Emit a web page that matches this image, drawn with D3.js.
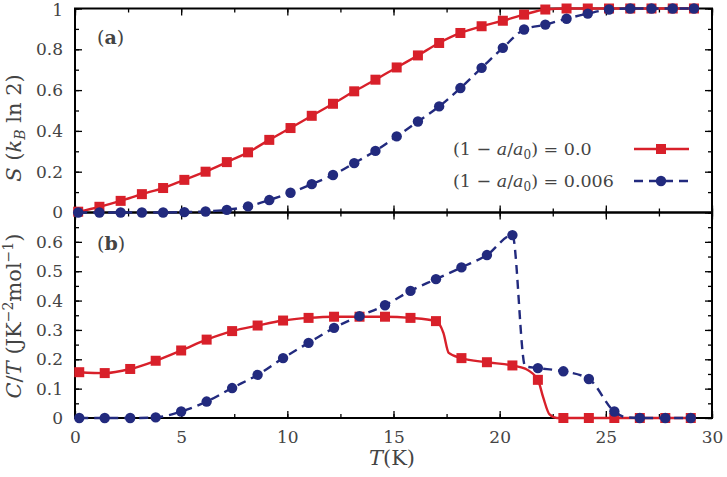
<!DOCTYPE html>
<html>
<head>
<meta charset="utf-8">
<script src="https://cdn.jsdelivr.net/npm/d3@7"></script>
<style>
  body { margin: 0; background: #fff; }
  svg { display: block; }
</style>
</head>
<body>
<script>
// entropy panel (a): markers every ~1 K
const tS = [0.15, 1.15, 2.15, 3.15, 4.15, 5.15, 6.15, 7.15, 8.15, 9.15,
  10.15, 11.15, 12.15, 13.15, 14.15, 15.15, 16.15, 17.15, 18.15, 19.15,
  20.15, 21.15, 22.15, 23.15, 24.15, 25.15, 26.15, 27.15, 28.15, 29.15];
const sRed = [0.004, 0.028, 0.057, 0.09, 0.12, 0.16, 0.2, 0.247, 0.295, 0.356,
  0.414, 0.474, 0.533, 0.594, 0.651, 0.711, 0.77, 0.831, 0.88, 0.913,
  0.94, 0.97, 0.995, 1, 1, 1, 1, 1, 1, 1];
const sBlue = [0, 0, 0, 0, 0, 0.002, 0.005, 0.013, 0.03, 0.061,
  0.097, 0.139, 0.184, 0.242, 0.302, 0.373, 0.446, 0.52, 0.61, 0.709,
  0.807, 0.897, 0.921, 0.95, 0.975, 0.995, 1, 1, 1, 1];

// specific heat panel (b): markers every ~1.2 K
const tC = [0.2, 1.4, 2.6, 3.8, 5.0, 6.2, 7.4, 8.6, 9.8, 11.0, 12.2, 13.4,
  14.6, 15.8, 17.0, 18.2, 19.4, 20.6, 21.8, 23.0, 24.2, 25.4, 26.6, 27.8, 29.0];
const cRed = [0.156, 0.153, 0.167, 0.195, 0.23, 0.267, 0.296, 0.315, 0.332, 0.341,
  0.345, 0.345, 0.345, 0.341, 0.33, 0.204, 0.19, 0.179, 0.13, 0, 0, 0, 0, 0, 0];
const cBlue = [0, 0, 0, 0.002, 0.022, 0.056, 0.102, 0.147, 0.204, 0.256,
  0.307, 0.347, 0.384, 0.433, 0.473, 0.513, 0.555, 0.623, 0.17, 0.159,
  0.133, 0.022, 0, 0, 0];
// extra points of the curves between markers (sharp drops)
const cRedKnots = [[17.35, 0.29], [17.6, 0.222], [21.2, 0.168], [22.05, 0.07], [22.35, 0.012], [22.7, 0]];
const cBlueKnots = [[21.2, 0.176], [25.9, 0.003]];

const xTicks = [0, 5, 10, 15, 20, 25, 30];
const sTicks = [0, 0.2, 0.4, 0.6, 0.8, 1];
const cTicks = [0, 0.1, 0.2, 0.3, 0.4, 0.5, 0.6];
const legendLabels = ["0.0", "0.006"];

const W = 727, H = 477;
const red = "#d8202a", blue = "#222a7e", ink = "#444";
const font = "'DejaVu Serif', 'Liberation Serif', serif";

const svg = d3.select("body").append("svg")
  .attr("width", W).attr("height", H)
  .style("font-family", font);

const x = d3.scaleLinear().domain([0, 30]).range([75, 712]);
const yS = d3.scaleLinear().domain([0, 1]).range([212.5, 8.5]);
const yC = d3.scaleLinear().domain([0, 0.7]).range([418, 212.5]);

function fmt(d) { return (d === 0 || d === 1) ? String(d) : d.toFixed(1); }

function frameAxes(y, yMajor, yMinorStep, bottomLabels) {
  const [y0, y1] = y.range();
  const yMax = y.domain()[1];
  const yMinor = d3.range(0, yMax + 1e-9, yMinorStep);
  const xMinor = d3.range(0, 30.01, 2.5);
  const g = svg.append("g");

  const put = (axis, transform) => {
    const a = g.append("g").attr("transform", transform).call(axis);
    a.select(".domain").remove();
    a.selectAll("line").attr("stroke", "#000").attr("stroke-width", 1.3);
    a.selectAll("text").attr("fill", ink).style("font-size", "17px").style("font-family", font);
    return a;
  };
  // left
  put(d3.axisLeft(y).tickValues(yMinor).tickSize(-4).tickFormat(""), `translate(${x(0)},0)`);
  put(d3.axisLeft(y).tickValues(yMajor).tickSize(-7).tickPadding(12).tickFormat(fmt), `translate(${x(0)},0)`)
    .selectAll("text").filter(d => d === 1).attr("dy", "0.42em");
  // right
  put(d3.axisRight(y).tickValues(yMinor).tickSize(-4).tickFormat(""), `translate(${x(30)},0)`);
  put(d3.axisRight(y).tickValues(yMajor).tickSize(-7).tickFormat(""), `translate(${x(30)},0)`);
  // top
  put(d3.axisTop(x).tickValues(xMinor).tickSize(-4).tickFormat(""), `translate(0,${y1})`);
  put(d3.axisTop(x).tickValues(xTicks).tickSize(-7).tickFormat(""), `translate(0,${y1})`);
  // bottom
  put(d3.axisBottom(x).tickValues(xMinor).tickSize(-4).tickFormat(""), `translate(0,${y0})`);
  put(d3.axisBottom(x).tickValues(xTicks).tickSize(-7).tickPadding(13)
    .tickFormat(bottomLabels ? d3.format("d") : ""), `translate(0,${y0})`);

  g.append("rect")
    .attr("x", x(0)).attr("y", y1)
    .attr("width", x(30) - x(0)).attr("height", y0 - y1)
    .attr("fill", "none").attr("stroke", "#000").attr("stroke-width", 2);
}

frameAxes(yS, sTicks, 0.1, false);
frameAxes(yC, cTicks, 0.05, true);

function series(y, pts, color, dashed, marker) {
  const line = d3.line().x(d => x(d[0])).y(d => y(d[1])).curve(d3.curveMonotoneX);
  svg.append("path")
    .datum(pts.line)
    .attr("d", line)
    .attr("fill", "none")
    .attr("stroke", color)
    .attr("stroke-width", 2.4)
    .attr("stroke-dasharray", dashed ? "9,6" : null);
  const m = svg.append("g").attr("fill", color);
  if (marker === "square") {
    m.selectAll("rect").data(pts.marks).join("rect")
      .attr("x", d => x(d[0]) - 5).attr("y", d => y(d[1]) - 5)
      .attr("width", 10).attr("height", 10);
  } else {
    m.selectAll("circle").data(pts.marks).join("circle")
      .attr("cx", d => x(d[0])).attr("cy", d => y(d[1])).attr("r", 5.2);
  }
}

function build(t, v, knots) {
  const marks = t.map((d, i) => [d, v[i]]);
  const line = marks.concat(knots || []).sort((a, b) => a[0] - b[0]);
  return { marks, line };
}

series(yS, build(tS, sRed), red, false, "square");
series(yS, build(tS, sBlue), blue, true, "circle");
series(yC, build(tC, cRed, cRedKnots), red, false, "square");
series(yC, build(tC, cBlue, cBlueKnots), blue, true, "circle");

// panel labels
function panelLabel(letter, px, py) {
  const t = svg.append("text").attr("x", px).attr("y", py)
    .attr("fill", ink).style("font-size", "19px");
  t.append("tspan").text("(");
  t.append("tspan").attr("font-weight", "bold").text(letter);
  t.append("tspan").text(")");
}
panelLabel("a", 97, 44);
panelLabel("b", 97, 250);

// legend
legendLabels.forEach((lab, i) => {
  const cy = i === 0 ? 149 : 181;
  const t = svg.append("text").attr("x", 453).attr("y", cy + 6)
    .attr("fill", ink).style("font-size", "17.5px");
  t.append("tspan").text("(1 \u2212 ");
  t.append("tspan").attr("font-style", "italic").text("a");
  t.append("tspan").text("/");
  t.append("tspan").attr("font-style", "italic").text("a");
  t.append("tspan").attr("dy", 4).style("font-size", "12px").text("0");
  t.append("tspan").attr("dy", -4).text(") = " + lab);
  const color = i === 0 ? red : blue;
  svg.append("line").attr("x1", 634).attr("x2", 689).attr("y1", cy).attr("y2", cy)
    .attr("stroke", color).attr("stroke-width", 2.4)
    .attr("stroke-dasharray", i === 0 ? null : "9,6");
  if (i === 0) {
    svg.append("rect").attr("x", 656).attr("y", cy - 5).attr("width", 10).attr("height", 10).attr("fill", color);
  } else {
    svg.append("circle").attr("cx", 661).attr("cy", cy).attr("r", 5.2).attr("fill", color);
  }
});

// axis titles
const xl = svg.append("text").attr("x", 392).attr("y", 465)
  .attr("text-anchor", "middle").attr("fill", ink).style("font-size", "21px");
xl.append("tspan").attr("font-style", "italic").text("T");
xl.append("tspan").text("(K)");

const yl1 = svg.append("text").attr("transform", "translate(21,128) rotate(-90)")
  .attr("text-anchor", "middle").attr("fill", ink).style("font-size", "21px");
yl1.append("tspan").attr("font-style", "italic").text("S");
yl1.append("tspan").text(" (");
yl1.append("tspan").attr("font-style", "italic").text("k");
yl1.append("tspan").attr("font-style", "italic").attr("dy", 4).style("font-size", "14px").text("B");
yl1.append("tspan").attr("dy", -4).text(" ln 2)");

const yl2 = svg.append("text").attr("transform", "translate(21,316) rotate(-90)")
  .attr("text-anchor", "middle").attr("fill", ink).style("font-size", "21px");
yl2.append("tspan").attr("font-style", "italic").text("C");
yl2.append("tspan").text("/");
yl2.append("tspan").attr("font-style", "italic").text("T");
yl2.append("tspan").text(" (JK");
yl2.append("tspan").attr("dy", -8).style("font-size", "14px").text("\u22122");
yl2.append("tspan").attr("dy", 8).text("mol");
yl2.append("tspan").attr("dy", -8).style("font-size", "14px").text("\u22121");
yl2.append("tspan").attr("dy", 8).text(")");
</script>
</body>
</html>
